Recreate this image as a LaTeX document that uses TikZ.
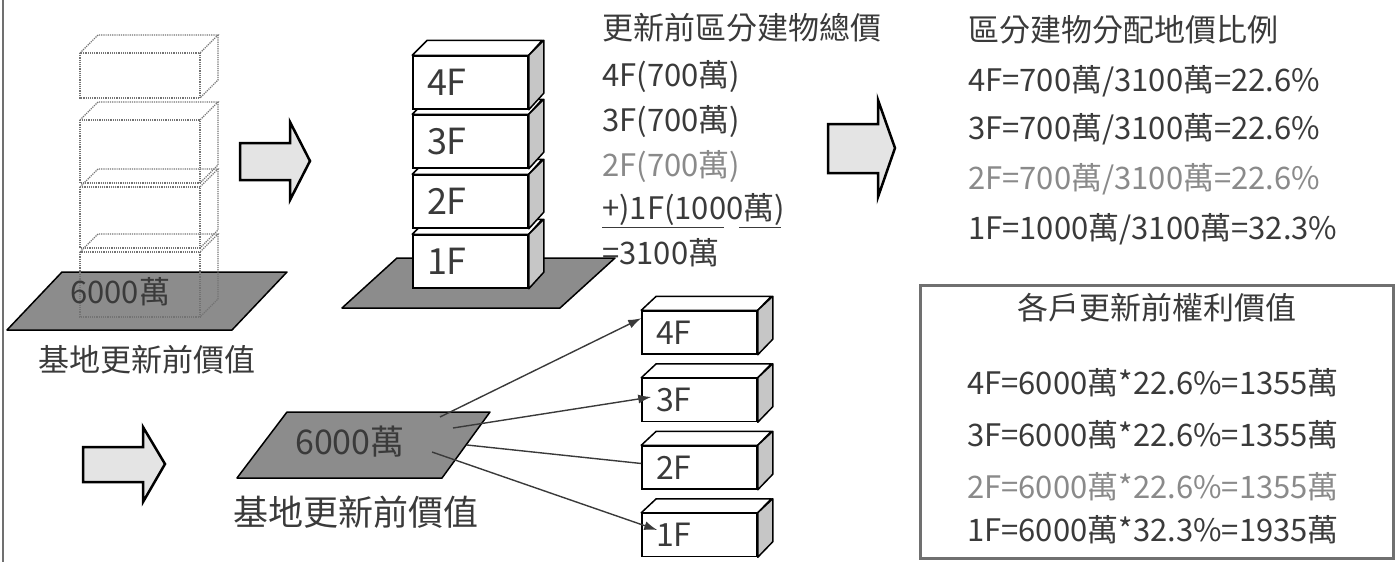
\documentclass[tikz,border=0pt]{standalone}
\usepackage{fontspec}
\setmainfont{Noto Sans CJK TC}
\usetikzlibrary{arrows.meta}

\definecolor{ink}{HTML}{3A3A3A}
\definecolor{faded}{HTML}{8A8A8A}
\definecolor{lot}{HTML}{8C8C8C}
\definecolor{side}{HTML}{C6C6C6}
\definecolor{arrowfill}{HTML}{E4E4E4}
\definecolor{frame}{HTML}{707070}

\tikzset{
  txt/.style={font=\fontsize{31}{31}\selectfont, text=ink, inner sep=0pt,
    anchor=west, text height=27pt, text depth=4pt},
  fadedtxt/.style={txt, text=faded},
  lotshape/.style={draw=black, line width=1.5pt, fill=lot, line join=round},
  wire/.style={draw=black!55, densely dotted, line width=1.2pt},
  midbox/.style={draw=black, line width=1.5pt, fill=white, minimum width=115pt,
    minimum height=53pt, inner xsep=14pt, inner ysep=0pt, text width=87pt,
    align=left, font=\fontsize{36}{36}\selectfont, text=ink},
  unitbox/.style={midbox, minimum height=43pt, font=\fontsize{32}{32}\selectfont},
  face/.style={draw=black, line width=1.5pt, fill=white, line join=round},
  sideface/.style={face, fill=side},
  bigarrow/.style={draw=black, line width=2.5pt, fill=arrowfill, line join=miter},
  link/.style={draw=ink, line width=1.4pt, -{Latex[length=13pt,width=9pt]}},
}

\begin{document}
\begin{tikzpicture}[x=1pt,y=-1pt]
  \useasboundingbox (0,0) rectangle (1397,562);
  \draw[frame, line width=2pt] (3,0) -- (3,562);

  % site and the old building (wire frame)
  \filldraw[lotshape] (7,330) -- (232,330) -- (287,272) -- (62,272) -- cycle;
  \def\D{18}
  \draw[wire] (80,53) rectangle (200,98);
  \draw[wire] (80,53) -- ++(\D,-\D) -- ++(120,0) -- (200,53);
  \draw[wire] (200+\D,53-\D) -- (200+\D,98-\D) -- (200,98);

  \draw[wire] (80,120) rectangle (200,183);
  \draw[wire] (80,120) -- ++(\D,-\D) -- ++(120,0) -- (200,120);
  \draw[wire] (200+\D,120-\D) -- (200+\D,183-\D) -- (200,183);

  \draw[wire] (80,187) rectangle (200,248);
  \draw[wire] (80,187) -- ++(\D,-\D) -- ++(120,0) -- (200,187);
  \draw[wire] (200+\D,187-\D) -- (200+\D,248-\D) -- (200,248);

  \draw[wire] (80,252) rectangle (200,317);
  \draw[wire] (80,252) -- ++(\D,-\D) -- ++(120,0) -- (200,252);
  \draw[wire] (200+\D,252-\D) -- (200+\D,317-\D) -- (200,317);

  \node[txt] (lotA) at (70,292) {6000萬};
  \node[txt] (siteA) at (38,360) {基地更新前價值};

  \filldraw[bigarrow] (240,143) -- (290,143) -- (290,122) -- (310,161)
    -- (290,200) -- (290,180) -- (240,180) -- cycle;

  % the building split into floors
  \filldraw[lotshape] (342,308) -- (560,308) -- (615,258) -- (397,258) -- cycle;
  \node[midbox] (m1) at (470.5,261.5) {1F};
  \draw[face] (m1.north west) -- ++(15,-15) -- ++(115,0) -- (m1.north east) -- cycle;
  \draw[sideface] (m1.north east) -- ++(15,-15) -- ++(0,53) -- (m1.south east) -- cycle;
  \node[midbox] (m2) at (470.5,201.5) {2F};
  \draw[face] (m2.north west) -- ++(15,-15) -- ++(115,0) -- (m2.north east) -- cycle;
  \draw[sideface] (m2.north east) -- ++(15,-15) -- ++(0,53) -- (m2.south east) -- cycle;
  \node[midbox] (m3) at (470.5,141.5) {3F};
  \draw[face] (m3.north west) -- ++(15,-15) -- ++(115,0) -- (m3.north east) -- cycle;
  \draw[sideface] (m3.north east) -- ++(15,-15) -- ++(0,53) -- (m3.south east) -- cycle;
  \node[midbox] (m4) at (470.5,82.5) {4F};
  \draw[face] (m4.north west) -- ++(15,-15) -- ++(115,0) -- (m4.north east) -- cycle;
  \draw[sideface] (m4.north east) -- ++(15,-15) -- ++(0,53) -- (m4.south east) -- cycle;

  \node[txt] (hdr) at (602,28) {更新前區分建物總價};
  \node[txt] (v4) at (602,75) {4F(700萬)};
  \node[txt] (v3) at (602,120) {3F(700萬)};
  \node[fadedtxt] (v2) at (602,165) {2F(700萬)};
  \node[txt] (v1) at (602,208) {+)1F(1000萬)};
  \node[txt] (vsum) at (602,253) {=3100萬};
  \draw[ink, line width=1.5pt] ([yshift=-4pt]v1.south west) -- ++(122,0);
  \draw[ink, line width=1.5pt] ([xshift=137pt,yshift=-4pt]v1.south west) -- ++(42,0);

  \filldraw[bigarrow] (828,124) -- (878,124) -- (878,100) -- (895,148)
    -- (878,197) -- (878,173) -- (828,173) -- cycle;

  % ratios
  \node[txt] (rhdr) at (968,30) {區分建物分配地價比例};
  \node[txt] (r4) at (968,80) {4F=700萬/3100萬=22.6\%};
  \node[txt] (r3) at (968,128) {3F=700萬/3100萬=22.6\%};
  \node[fadedtxt] (r2) at (968,178) {2F=700萬/3100萬=22.6\%};
  \node[txt] (r1) at (968,228) {1F=1000萬/3100萬=32.3\%};

  % rights value per unit
  \draw[frame, line width=3pt] (920,285) rectangle (1393,558);
  \node[txt, anchor=center] (bhdr) at (1157,308) {各戶更新前權利價值};
  \node[txt] (b4) at (967,383) {4F=6000萬*22.6\%=1355萬};
  \node[txt] (b3) at (967,435) {3F=6000萬*22.6\%=1355萬};
  \node[fadedtxt] (b2) at (967,487) {2F=6000萬*22.6\%=1355萬};
  \node[txt] (b1) at (967,530) {1F=6000萬*32.3\%=1935萬};

  % site value handed out to the units
  \filldraw[bigarrow] (83,447) -- (143,447) -- (143,427) -- (165,464)
    -- (143,502) -- (143,482) -- (83,482) -- cycle;
  \filldraw[lotshape] (237,478) -- (442,478) -- (490,412) -- (287,412) -- cycle;
  \coordinate (s4) at (440,417);
  \coordinate (s3) at (453,428);
  \coordinate (s2) at (467,445);
  \coordinate (s1) at (432,452);

  \node[unitbox] (u4) at (699.5,332.5) {4F};
  \draw[face] (u4.north west) -- ++(15,-14) -- ++(115,0) -- (u4.north east) -- cycle;
  \draw[sideface] (u4.north east) -- ++(15,-14) -- ++(0,43) -- (u4.south east) -- cycle;
  \node[unitbox] (u3) at (699.5,400) {3F};
  \draw[face] (u3.north west) -- ++(15,-14) -- ++(115,0) -- (u3.north east) -- cycle;
  \draw[sideface] (u3.north east) -- ++(15,-14) -- ++(0,43) -- (u3.south east) -- cycle;
  \node[unitbox] (u2) at (699.5,467.5) {2F};
  \draw[face] (u2.north west) -- ++(15,-14) -- ++(115,0) -- (u2.north east) -- cycle;
  \draw[sideface] (u2.north east) -- ++(15,-14) -- ++(0,43) -- (u2.south east) -- cycle;
  \node[unitbox] (u1) at (699.5,535) {1F};
  \draw[face] (u1.north west) -- ++(15,-14) -- ++(115,0) -- (u1.north east) -- cycle;
  \draw[sideface] (u1.north east) -- ++(15,-14) -- ++(0,43) -- (u1.south east) -- cycle;

  \draw[link] (s4) -- ([yshift=-8pt]u4.north west);
  \draw[link] (s3) -- ([xshift=10pt,yshift=3pt]u3.west);
  \draw[link, -] (s2) -- ([yshift=4pt]u2.west);
  \draw[link] (s1) -- ([xshift=16pt,yshift=5pt]u1.west);

  \node[txt, font=\fontsize{34}{34}\selectfont] (lotB) at (295,443) {6000萬};
  \node[txt, font=\fontsize{35}{35}\selectfont, text height=31pt, text depth=4pt]
    (siteB) at (233,512) {基地更新前價值};
\end{tikzpicture}
\end{document}
